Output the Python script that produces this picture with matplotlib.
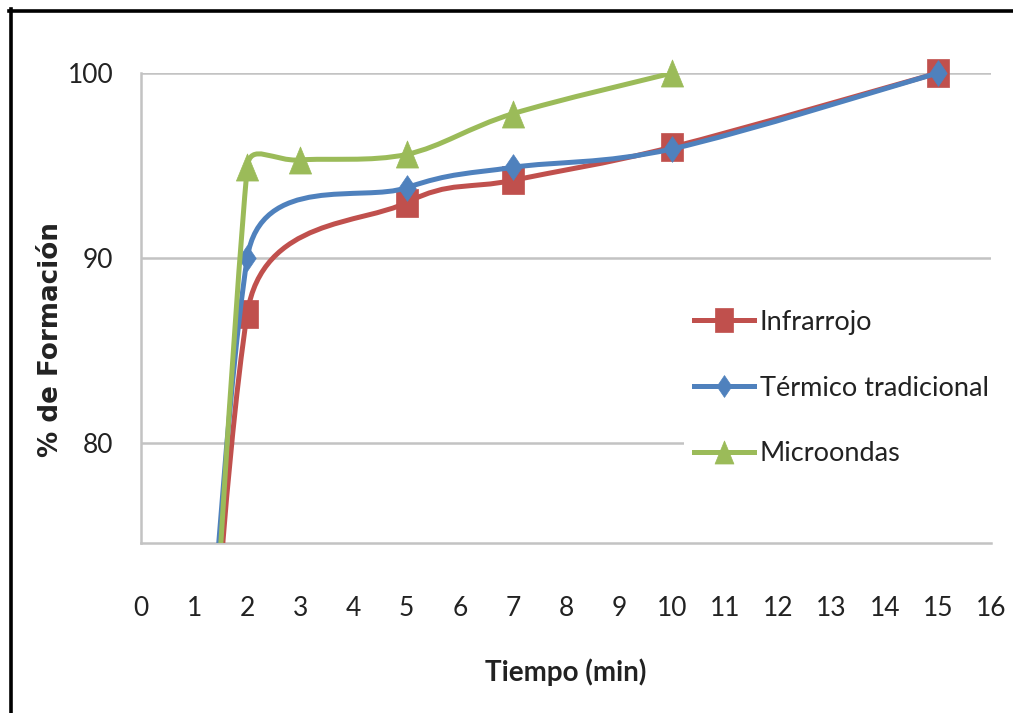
import numpy as np
import matplotlib
matplotlib.use("Agg")
import matplotlib.pyplot as plt
from matplotlib.path import Path
from matplotlib.patches import PathPatch
from matplotlib.lines import Line2D

# --- data -------------------------------------------------------------
series_names = ["Infrarrojo", "Térmico tradicional", "Microondas"]
t_infrarrojo = [0, 2, 5, 7, 10, 15]
y_infrarrojo = [0, 87.0, 93.0, 94.2, 96.0, 100.0]
t_termico = [0, 2, 5, 7, 10, 15]
y_termico = [0, 90.0, 93.8, 94.9, 95.9, 100.0]
t_microondas = [0, 2, 3, 5, 7, 10]
y_microondas = [0, 94.9, 95.3, 95.6, 97.8, 100.0]
x_ticks = list(range(0, 17))
y_ticks = [80, 90, 100]

colors = ["#C0504D", "#4F81BD", "#9BBB59"]

# slightly tall marker shapes (square, diamond, triangle)
m_square = Path([(-0.39, -0.5), (0.39, -0.5), (0.39, 0.5), (-0.39, 0.5),
                 (-0.39, -0.5)], closed=True)
m_diamond = Path([(0, -0.5), (0.34, 0), (0, 0.5), (-0.34, 0), (0, -0.5)],
                 closed=True)
m_triangle = Path([(-0.41, -0.5), (0.41, -0.5), (0, 0.5), (-0.41, -0.5)],
                  closed=True)
markers = [m_square, m_diamond, m_triangle]
msizes = [19.5, 18.5, 19.5]

W, H, DPI = 1013, 713, 100
fig = plt.figure(figsize=(W / DPI, H / DPI), dpi=DPI)
fig.patch.set_facecolor("white")

L, R, T, B = 141, 991, 73, 543
ax = fig.add_axes([L / W, 1 - B / H, (R - L) / W, (B - T) / H])
ax.set_xlim(0, 16)
ax.set_ylim(74.6, 100)

grid_c = "#C3C3C3"
ax.set_xticks(x_ticks)
ax.set_yticks(y_ticks)
ax.yaxis.grid(True, color=grid_c, lw=1.8)
ax.set_axisbelow(True)
for s in ["top", "right"]:
    ax.spines[s].set_visible(False)
for s in ["left", "bottom"]:
    ax.spines[s].set_color(grid_c)
    ax.spines[s].set_linewidth(1.8)
ax.tick_params(length=0, labelsize=19, labelcolor="#222222")
ax.tick_params(axis="x", pad=38.5)
ax.tick_params(axis="y", pad=20)
for lab in ax.get_xticklabels() + ax.get_yticklabels():
    lab.set_family("Lato")


def smooth_path(ax, xs, ys):
    """Bezier path through the points, with control points capped to half
    of each segment length (spreadsheet-style smoothed line)."""
    pts = ax.transData.transform(np.column_stack([xs, ys]))
    n = len(pts)
    verts = [pts[0]]
    codes = [Path.MOVETO]
    for i in range(n - 1):
        p0 = pts[i - 1] if i > 0 else pts[i]
        p1 = pts[i]
        p2 = pts[i + 1]
        p3 = pts[i + 2] if i + 2 < n else pts[i + 1]
        d12 = np.hypot(*(p2 - p1))
        d02 = np.hypot(*(p2 - p0))
        d13 = np.hypot(*(p3 - p1))
        f1 = 1 / 6 if d02 / 6 < d12 / 2 else d12 / (2 * d02)
        f2 = 1 / 6 if d13 / 6 < d12 / 2 else d12 / (2 * d13)
        c1 = p1 + f1 * (p2 - p0)
        c2 = p2 - f2 * (p3 - p1)
        verts += [c1, c2, p2]
        codes += [Path.CURVE4] * 3
    verts = ax.transData.inverted().transform(np.array(verts))
    return Path(verts, codes)


all_t = [t_infrarrojo, t_termico, t_microondas]
all_y = [y_infrarrojo, y_termico, y_microondas]
ymin = ax.get_ylim()[0]
handles = []
for k, (xs, ys) in enumerate(zip(all_t, all_y)):
    path = smooth_path(ax, xs, ys)
    ax.add_patch(PathPatch(path, fill=False, edgecolor=colors[k], lw=3.6,
                           capstyle="round", joinstyle="round", zorder=3 + k))
    xs_a, ys_a = np.array(xs), np.array(ys)
    vis = ys_a >= ymin
    ax.plot(xs_a[vis], ys_a[vis], ls="none", marker=markers[k],
            ms=msizes[k], color=colors[k], mec=colors[k], mew=0.5,
            clip_on=False, zorder=3 + k)
    handles.append(Line2D([], [], color=colors[k], lw=3.6, marker=markers[k],
                          ms=msizes[k] * 0.85, mec=colors[k], mew=0.5))

ax.set_xlabel("Tiempo (min)", family="Lato", fontweight="bold", fontsize=20,
              color="#222222")
ax.xaxis.set_label_coords((566 - L) / (R - L), -(658 - B) / (B - T))
ax.set_ylabel("% de Formación", family="DejaVu Sans", fontweight="bold",
              fontsize=18.8, color="#222222")
ax.yaxis.set_label_coords(-(L - 64) / (R - L), (B - 340) / (B - T))

leg = ax.legend(handles, series_names, loc="center left",
                bbox_to_anchor=(670 / W, 1 - 388 / H),
                bbox_transform=fig.transFigure, frameon=True,
                facecolor="white", edgecolor="none", framealpha=1,
                fontsize=19.5, handlelength=2.2, handletextpad=0.22,
                labelspacing=1.5, borderpad=0.4, fancybox=False)
for txt in leg.get_texts():
    txt.set_family("Lato")
    txt.set_color("#222222")
leg.set_zorder(10)

# outer frame on the left and top edges of the figure
fig.add_artist(Line2D([10.5 / W, 10.5 / W], [0, 1 - 9 / H], color="black",
                      lw=2.6, transform=fig.transFigure))
fig.add_artist(Line2D([9 / W, 1], [1 - 10.5 / H, 1 - 10.5 / H], color="black",
                      lw=2.6, transform=fig.transFigure))

fig.savefig("out.png", dpi=DPI, facecolor="white")
